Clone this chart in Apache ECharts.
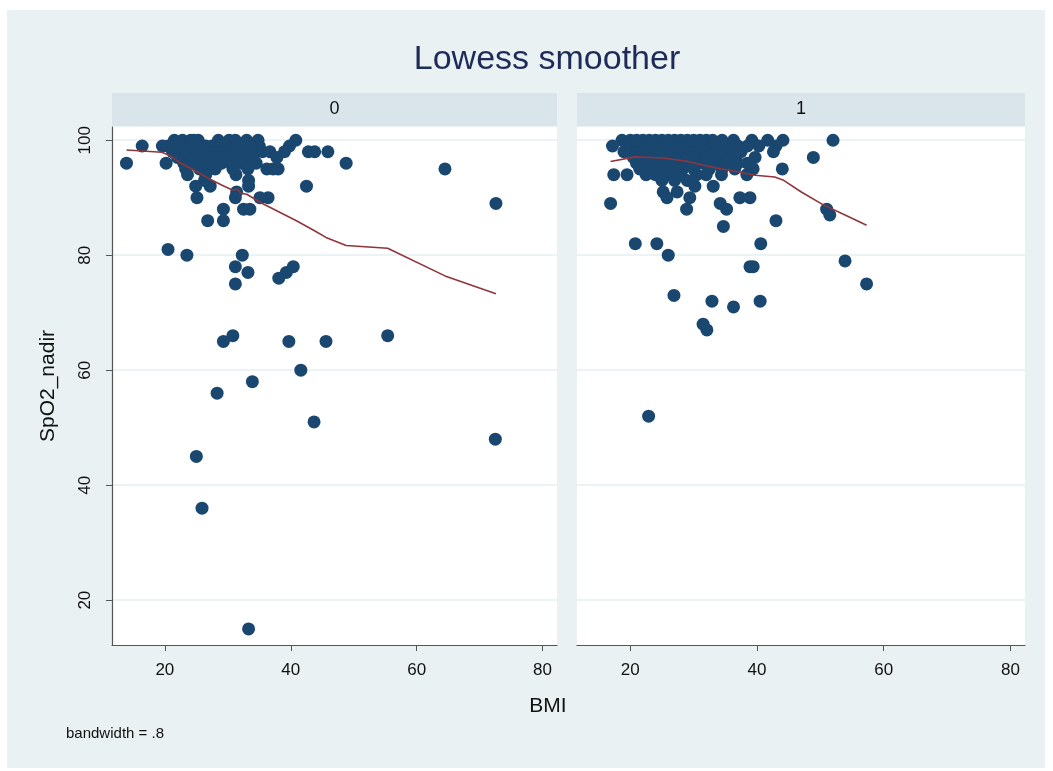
<!DOCTYPE html>
<html>
<head>
<meta charset="utf-8">
<script src="https://cdn.jsdelivr.net/npm/echarts@6/dist/echarts.min.js"></script>
<style>
  html, body { margin: 0; padding: 0; background: #fff; }
  #chart { width: 1053px; height: 771px; }
</style>
</head>
<body>
<div id="chart"></div>
<script>
// panel labels (by group)
const panelLabels = ['0', '1'];
const xTicks = [20, 40, 60, 80];
const yTicks = [20, 40, 60, 80, 100];

// [BMI, SpO2_nadir] for group 0
const group0Points = [
  [21.5,100],[22.8,100],[24.1,100],[24.6,100],[25.3,100],[28.5,100],[30.2,100],[31.2,100],[33,100],[34.8,100],[40.8,100],
  [16.4,99],[19.6,99],[20.5,99],[22,99],[23,99],[24,99],[26.5,99],[27.5,99],[29,99],[30.5,99],[32,99],[33.5,99],[35,99],[39.8,99],
  [21.2,98],[22.4,98],[24.5,98],[25.5,98],[26.8,98],[28,98],[29.5,98],[31,98],[32.3,98],[34.3,98],[35.5,98],[36.7,98],[39,98],[42.8,98],[43.8,98],[45.9,98],
  [22,97],[23.2,97],[26,97],[27.3,97],[28.5,97],[30,97],[31.5,97],[33,97],[34,97],[37.8,97],
  [13.9,96],[20.2,96],[23,96],[24.8,96],[27,96],[29,96],[30.5,96],[32,96],[34.5,96],[48.8,96],
  [23.3,95],[25.5,95],[28,95],[30.8,95],[33.2,95],[36.2,95],[37.2,95],[38,95],[64.5,95],
  [23.6,94],[26.5,94],[31.3,94],
  [26.3,93],[33.3,93],
  [24.9,92],[27.2,92],[33.3,92],[42.5,92],
  [31.4,91],
  [25.1,90],[31.2,90],[35.1,90],[36.4,90],
  [72.6,89],
  [29.3,88],[32.5,88],[33.5,88],
  [26.8,86],[29.3,86],
  [20.5,81],[23.5,80],[32.3,80],[31.2,78],[40.4,78],[33.2,77],[39.3,77],[38.1,76],[31.2,75],
  [30.8,66],[55.4,66],[29.3,65],[39.7,65],[45.6,65],[41.6,60],[33.9,58],[28.3,56],[43.7,51],
  [72.5,48],[25,45],[25.9,36],[33.3,15]
];

// [BMI, SpO2_nadir] for group 1
const group1Points = [
  [18.7,100],[20,100],[21,100],[22,100],[23,100],[24,100],[25,100],[26,100],[27,100],[28,100],[29,100],[30,100],[31,100],[32,100],[33,100],[34.5,100],[36.3,100],[39.2,100],[41.7,100],[44.1,100],[52,100],
  [17.2,99],[19.5,99],[20.5,99],[21.5,99],[22.5,99],[23.5,99],[24.5,99],[25.5,99],[26.5,99],[27.5,99],[28.5,99],[29.5,99],[30.5,99],[31.5,99],[33,99],[35,99],[37,99],[38.5,99],[40.3,99],[43,99],
  [19,98],[20,98],[21,98],[22,98],[23,98],[24,98],[25,98],[26,98],[27,98],[28,98],[29,98],[30,98],[31,98],[32,98],[33.5,98],[35.5,98],[37.5,98],[42.6,98],
  [20.5,97],[22,97],[23,97],[24.5,97],[26,97],[27.5,97],[29,97],[30.5,97],[32,97],[34,97],[36,97],[39.7,97],[48.9,97],
  [21,96],[22.5,96],[24,96],[25.5,96],[27,96],[28.5,96],[30,96],[31.5,96],[33,96],[35,96],[37,96],[38.5,96],
  [21.5,95],[23.5,95],[25,95],[26.8,95],[28.3,95],[30,95],[32.5,95],[34.5,95],[36.5,95],[39.4,95],[44,95],
  [17.4,94],[19.5,94],[22.5,94],[24,94],[26,94],[28,94],[30.5,94],[32,94],[34.4,94],[38.4,94],
  [25,93],[27,93],[29,93],
  [30.2,92],[33.1,92],
  [25.2,91],[27.4,91],
  [25.8,90],[29.4,90],[37.3,90],[38.9,90],
  [16.9,89],[34.2,89],
  [28.9,88],[35.2,88],[51,88],[51.5,87],
  [43,86],[34.7,85],
  [20.8,82],[24.2,82],[40.6,82],[26,80],[53.9,79],[38.9,78],[39.4,78],[57.3,75],
  [26.9,73],[32.9,72],[40.5,72],[36.3,71],[31.5,68],[32.1,67],[22.9,52]
];

// lowess fitted values, bandwidth .8
const lowess0 = [
  [13.9,98.3],[19.5,97.9],[20.7,97.4],[22.5,96],[25,94.6],[27.2,93.2],[29,92.2],[30.8,91.3],[31.5,91.5],
  [32,90.8],[33,90.6],[35.5,89],[38,87.6],[40.9,86],[43.7,84.3],[45.6,83.1],[48.8,81.7],[55.4,81.2],[64.5,76.4],[72.6,73.3]
];
const lowess1 = [
  [16.9,96.3],[20.8,97.1],[25.2,96.9],[28.7,96.4],[31.8,95.6],[33.4,95.2],[36.5,94.6],[39.7,93.9],
  [42.8,93.6],[44.1,93.1],[47,91],[50.4,88.8],[53.9,87],[57.3,85.2]
];

const FONT = '"Liberation Sans", Arial, sans-serif';
const markerColor = '#1a476f';
const lineColor = '#90353b';
const axisColor = '#555555';
const gridColor = '#e6eff1';

const chart = echarts.init(document.getElementById('chart'));

const grids = [
  { left: 112, top: 127, width: 445, height: 518 },
  { left: 577, top: 127, width: 448, height: 518 }
];

const xAxes = grids.map((g, i) => ({
  type: 'value',
  gridIndex: i,
  min: 11.6,
  max: 82.3,
  axisLine: { show: true, onZero: false, lineStyle: { color: axisColor, width: 1.2 } },
  axisTick: { show: true, length: 6, customValues: xTicks, lineStyle: { color: axisColor } },
  axisLabel: { customValues: xTicks, color: '#111', fontSize: 17, fontFamily: FONT, margin: 17 },
  splitLine: { show: false }
}));

const yAxes = grids.map((g, i) => ({
  type: 'value',
  gridIndex: i,
  min: 12.2,
  max: 102.3,
  name: i === 0 ? 'SpO2_nadir' : '',
  nameLocation: 'middle',
  nameGap: 53,
  nameTextStyle: { color: '#111', fontSize: 21, fontFamily: FONT },
  axisLine: { show: i === 0, onZero: false, lineStyle: { color: axisColor, width: 1.2 } },
  axisTick: { show: i === 0, length: 6, customValues: yTicks, lineStyle: { color: axisColor } },
  axisLabel: {
    show: i === 0, customValues: yTicks, rotate: 90, color: '#111',
    fontSize: 17, fontFamily: FONT, margin: 18
  },
  splitLine: { show: true, lineStyle: { color: gridColor, width: 1.5 } }
}));

const series = [];
[group0Points, group1Points].forEach((pts, i) => {
  series.push({
    type: 'scatter',
    xAxisIndex: i,
    yAxisIndex: i,
    data: pts,
    symbolSize: 13,
    itemStyle: { color: markerColor, opacity: 1 },
    z: 2
  });
});
[lowess0, lowess1].forEach((pts, i) => {
  series.push({
    type: 'line',
    xAxisIndex: i,
    yAxisIndex: i,
    data: pts,
    showSymbol: false,
    lineStyle: { color: lineColor, width: 1.6 },
    z: 3
  });
});

const graphic = [
  {
    type: 'rect', z: -10,
    shape: { x: 7, y: 10, width: 1038, height: 758 },
    style: { fill: '#eaf1f3' }
  },
  {
    type: 'text', x: 547, y: 60, z: 5,
    style: {
      text: 'Lowess smoother', fill: '#1e2b59', fontSize: 34, fontFamily: FONT,
      textAlign: 'center', textVerticalAlign: 'middle'
    }
  },
  {
    type: 'text', x: 548, y: 706, z: 5,
    style: {
      text: 'BMI', fill: '#111', fontSize: 21, fontFamily: FONT,
      textAlign: 'center', textVerticalAlign: 'middle'
    }
  },
  {
    type: 'text', x: 66, y: 734, z: 5,
    style: { text: 'bandwidth = .8', fill: '#111', fontSize: 15, fontFamily: FONT, textVerticalAlign: 'middle' }
  }
];
grids.forEach((g, i) => {
  graphic.push({
    type: 'rect', z: -5,
    shape: { x: g.left, y: 93, width: g.width, height: 33 },
    style: { fill: '#d9e5ea' }
  });
  graphic.push({
    type: 'text', z: 5,
    x: g.left + g.width / 2, y: 109,
    style: {
      text: panelLabels[i], fill: '#111', fontSize: 18, fontFamily: FONT,
      textAlign: 'center', textVerticalAlign: 'middle'
    }
  });
});

chart.setOption({
  backgroundColor: '#ffffff',
  animation: false,
  grid: grids.map(g => Object.assign({ show: true, backgroundColor: '#ffffff', borderWidth: 0 }, g)),
  xAxis: xAxes,
  yAxis: yAxes,
  series: series,
  graphic: graphic
});
</script>
</body>
</html>
